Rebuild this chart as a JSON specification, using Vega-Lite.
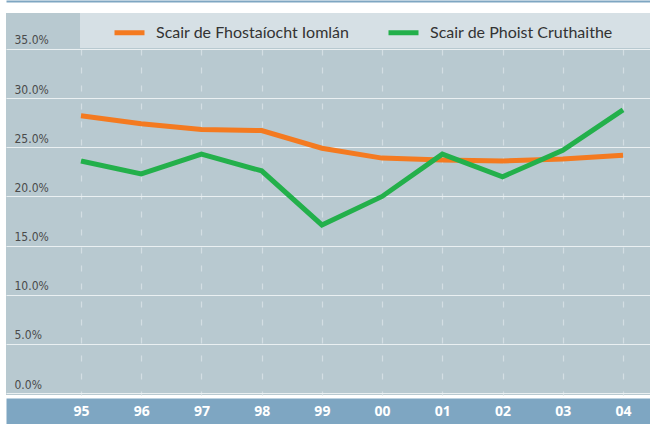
{
  "$schema": "https://vega.github.io/schema/vega-lite/v6.json",
  "width": 644,
  "height": 382,
  "autosize": {"type": "none"},
  "padding": {"left": 6, "top": 13, "right": 0, "bottom": 29},
  "background": "#ffffff",
  "config": {
    "view": {"fill": "#b8c9d0", "stroke": null},
    "font": "Lato"
  },
  "data": {
    "values": [
      {"year": 1995, "series": "Scair de Fhostaíocht Iomlán", "value": 28.2},
      {"year": 1996, "series": "Scair de Fhostaíocht Iomlán", "value": 27.4},
      {"year": 1997, "series": "Scair de Fhostaíocht Iomlán", "value": 26.8},
      {"year": 1998, "series": "Scair de Fhostaíocht Iomlán", "value": 26.7},
      {"year": 1999, "series": "Scair de Fhostaíocht Iomlán", "value": 24.9},
      {"year": 2000, "series": "Scair de Fhostaíocht Iomlán", "value": 23.9},
      {"year": 2001, "series": "Scair de Fhostaíocht Iomlán", "value": 23.7},
      {"year": 2002, "series": "Scair de Fhostaíocht Iomlán", "value": 23.6},
      {"year": 2003, "series": "Scair de Fhostaíocht Iomlán", "value": 23.8},
      {"year": 2004, "series": "Scair de Fhostaíocht Iomlán", "value": 24.2},
      {"year": 1995, "series": "Scair de Phoist Cruthaithe", "value": 23.6},
      {"year": 1996, "series": "Scair de Phoist Cruthaithe", "value": 22.3},
      {"year": 1997, "series": "Scair de Phoist Cruthaithe", "value": 24.3},
      {"year": 1998, "series": "Scair de Phoist Cruthaithe", "value": 22.6},
      {"year": 1999, "series": "Scair de Phoist Cruthaithe", "value": 17.1},
      {"year": 2000, "series": "Scair de Phoist Cruthaithe", "value": 20.0},
      {"year": 2001, "series": "Scair de Phoist Cruthaithe", "value": 24.3},
      {"year": 2002, "series": "Scair de Phoist Cruthaithe", "value": 22.0},
      {"year": 2003, "series": "Scair de Phoist Cruthaithe", "value": 24.7},
      {"year": 2004, "series": "Scair de Phoist Cruthaithe", "value": 28.8}
    ]
  },
  "resolve": {"scale": {"x": "independent"}, "axis": {"x": "independent"}},
  "layer": [
    {
      "mark": {"type": "rect", "color": "#d6e0e5"},
      "encoding": {
        "x": {
          "datum": 1994.985,
          "type": "quantitative",
          "scale": {"domain": [1993.755, 2004.448], "nice": false, "zero": false},
          "axis": {
            "orient": "top",
            "offset": 12,
            "domain": true,
            "domainColor": "#7ea6c2",
            "domainWidth": 2,
            "ticks": false,
            "labels": false,
            "grid": false,
            "title": null
          }
        },
        "x2": {"value": "width"},
        "y": {"value": 0},
        "y2": {"datum": 35}
      }
    },
    {
      "mark": {"type": "line", "strokeWidth": 5, "strokeJoin": "miter"},
      "encoding": {
        "x": {
          "field": "year",
          "type": "quantitative",
          "scale": {"domain": [1993.755, 2004.448], "nice": false, "zero": false},
          "axis": {
            "orient": "bottom",
            "values": [1995, 1996, 1997, 1998, 1999, 2000, 2001, 2002, 2003, 2004],
            "offset": 16,
            "zindex": 0,
            "domain": true,
            "domainColor": "#7ea6c2",
            "domainWidth": 26,
            "ticks": false,
            "labels": false,
            "grid": true,
            "gridColor": "#d3dee3",
            "gridDash": [6, 12],
            "gridWidth": 1.2,
            "title": null
          }
        },
        "y": {
          "field": "value",
          "type": "quantitative",
          "scale": {"domain": [-0.2, 38.66], "nice": false, "zero": false},
          "axis": {
            "values": [0, 5, 10, 15, 20, 25, 30, 35],
            "labelExpr": "format(datum.value, '.1f') + '%'",
            "domain": false,
            "ticks": false,
            "labelAlign": "left",
            "labelPadding": -8,
            "labelBaseline": "alphabetic",
            "labelOffset": -5,
            "labelColor": "#4a4a4a",
            "labelFont": "DejaVu Sans Condensed",
            "labelFontSize": 12,
            "grid": true,
            "gridColor": "#eaf0f2",
            "gridWidth": 1.2,
            "title": null
          }
        },
        "color": {
          "field": "series",
          "type": "nominal",
          "scale": {
            "domain": ["Scair de Fhostaíocht Iomlán", "Scair de Phoist Cruthaithe"],
            "range": ["#f47a20", "#23b04b"]
          },
          "legend": {
            "orient": "none",
            "legendX": 106,
            "legendY": 2,
            "direction": "horizontal",
            "title": null,
            "symbolType": "stroke",
            "symbolSize": 900,
            "symbolStrokeWidth": 5,
            "labelFont": "Lato",
            "labelFontSize": 16,
            "labelColor": "#333333",
            "labelOffset": 9,
            "columnPadding": 28,
            "padding": 0,
            "labelLimit": 400
          }
        }
      }
    },
    {
      "mark": {"type": "point", "opacity": 0},
      "encoding": {
        "x": {
          "field": "year",
          "type": "quantitative",
          "scale": {"domain": [1993.755, 2004.448], "nice": false, "zero": false},
          "axis": {
            "orient": "bottom",
            "values": [1995, 1996, 1997, 1998, 1999, 2000, 2001, 2002, 2003, 2004],
            "labelExpr": "slice(toString(datum.value), 2)",
            "offset": 16,
            "zindex": 1,
            "domain": false,
            "ticks": false,
            "grid": false,
            "labelPadding": 0,
            "labelBaseline": "middle",
            "labelColor": "#ffffff",
            "labelFont": "Noto Sans",
            "labelFontWeight": "bold",
            "labelFontSize": 14,
            "title": null
          }
        },
        "y": {"field": "value", "type": "quantitative"}
      }
    }
  ]
}
